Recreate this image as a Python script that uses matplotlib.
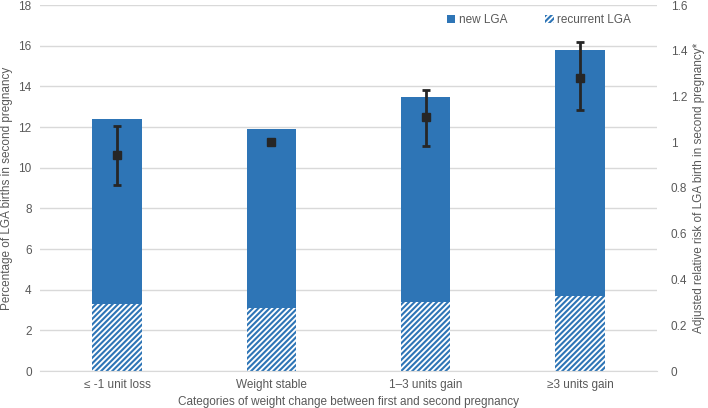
import matplotlib.pyplot as plt
import numpy as np

plt.rcParams['font.family'] = ['Liberation Sans', 'DejaVu Sans']
plt.rcParams['hatch.linewidth'] = 1.5

# categories and values
categories = ['≤ -1 unit loss', 'Weight stable', '1–3 units gain', '≥3 units gain']
total_lga = [12.4, 11.9, 13.5, 15.8]      # % LGA births (bar height)
recurrent_lga = [3.3, 3.1, 3.4, 3.7]      # hatched part
new_lga = [t - r for t, r in zip(total_lga, recurrent_lga)]

# adjusted relative risk with 95% CI (right axis)
rr = [0.945, 1.0, 1.11, 1.28]
rr_low = [0.815, np.nan, 0.985, 1.14]
rr_high = [1.073, np.nan, 1.227, 1.437]

blue = '#2E75B6'
grey = '#595959'
fs = 8.5

fig = plt.figure(figsize=(7.08, 4.08), dpi=100)
ax = fig.add_axes([40 / 708, 1 - 371 / 408, 617 / 708, 366 / 408])
x = np.arange(len(categories))
w = 0.32

ax.bar(x, recurrent_lga, w, color='white', edgecolor=blue, hatch='//////',
       linewidth=0, label='recurrent LGA', zorder=2)
ax.bar(x, new_lga, w, bottom=recurrent_lga, color=blue, label='new LGA', zorder=2)

ax.set_xlim(-0.5, len(categories) - 0.5)
ax.set_ylim(0, 18)
ax.set_yticks(np.arange(0, 19, 2))
ax.set_xticks(x)
ax.set_xticklabels(categories)
ax.grid(axis='y', color='#d9d9d9', linewidth=1, zorder=0)
ax.set_axisbelow(True)
for s in ['top', 'right', 'left']:
    ax.spines[s].set_visible(False)
ax.spines['bottom'].set_color('#d9d9d9')
ax.tick_params(length=0, labelsize=fs, colors=grey, pad=6)
ax.set_ylabel('Percentage of LGA births in second pregnancy', fontsize=fs, color=grey, labelpad=4)
ax.set_xlabel('Categories of weight change between first and second pregnancy',
              fontsize=fs, color=grey, labelpad=3)

ax2 = ax.twinx()
ax2.set_ylim(0, 1.6)
ax2.set_yticks(np.arange(0, 1.61, 0.2))
ax2.set_yticklabels(['0', '0.2', '0.4', '0.6', '0.8', '1', '1.2', '1.4', '1.6'])
for s in ax2.spines.values():
    s.set_visible(False)
ax2.tick_params(length=0, labelsize=fs, colors=grey, pad=10)
ax2.set_ylabel('Adjusted relative risk of LGA birth in second pregnancy*', fontsize=fs,
               color=grey, labelpad=4)

rr_arr = np.array(rr)
err = np.array([rr_arr - np.array(rr_low), np.array(rr_high) - rr_arr])
err = np.nan_to_num(err)
ax2.errorbar(x, rr, yerr=err, fmt='s', color='#262626', markersize=6,
             elinewidth=2, capsize=3, capthick=2, zorder=3)

handles, labels = ax.get_legend_handles_labels()
ax.legend(handles[::-1], labels[::-1], ncol=2, frameon=False, fontsize=fs,
          loc='upper right', bbox_to_anchor=(0.975, 1.005), handlelength=0.7,
          handleheight=0.7, handletextpad=0.3, columnspacing=3.2, labelcolor=grey)

fig.savefig('out.png', dpi=100)
